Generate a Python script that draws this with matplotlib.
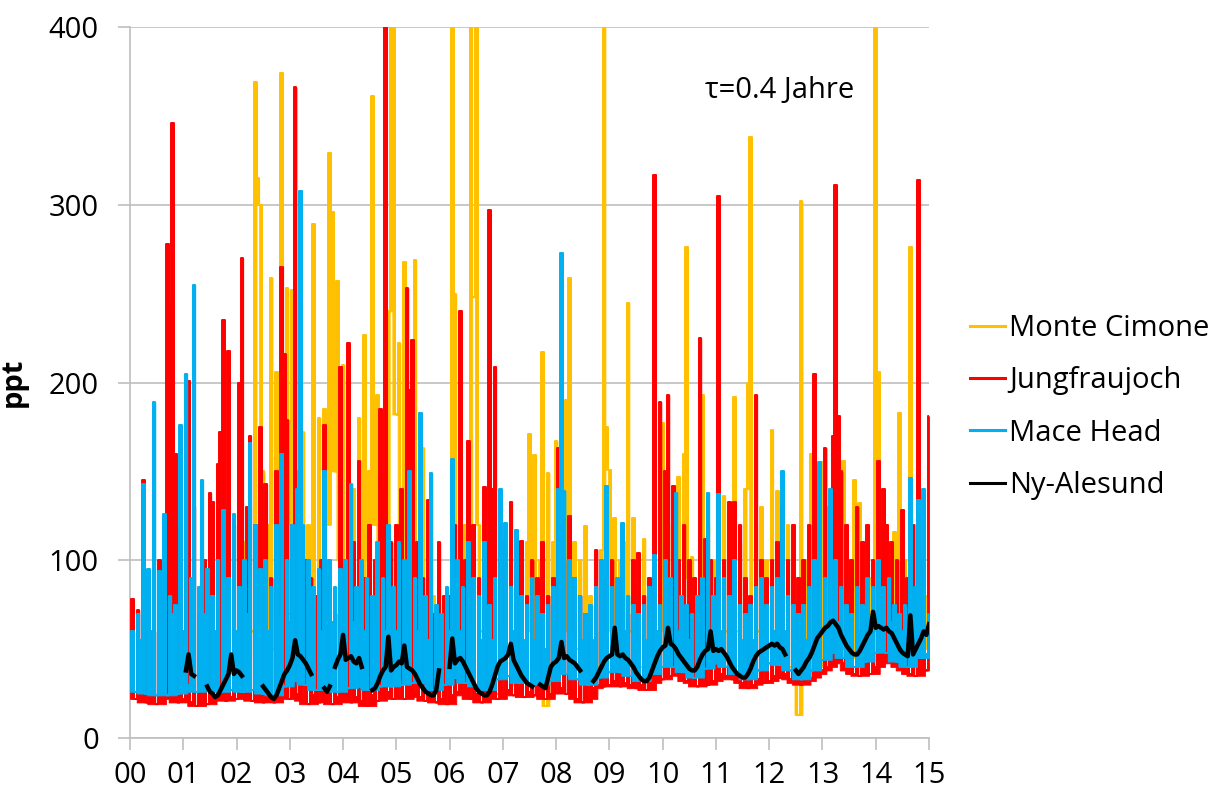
import numpy as np
import matplotlib
matplotlib.use("Agg")
import matplotlib.pyplot as plt
from numpy.lib.stride_tricks import sliding_window_view

nan = np.nan

# sample dates (years since 2000), 20 samples per year
years = np.arange(301) * 0.05
tick_labels = ["00", "01", "02", "03", "04", "05", "06", "07", "08", "09",
               "10", "11", "12", "13", "14", "15"]
series_names = ["Monte Cimone", "Jungfraujoch", "Mace Head", "Ny-Alesund"]

monte_cimone = (
    [nan] * 40 +
    [40, 156, 60, 110, 45, 130, 60, 369, 315, 300, 150, 60, 120, 259, 50, 206, 90, 374, 60, 253] +
    [70, 252, 80, 150, 60, 172, 50, 120, 70, 289, 60, 180, 90, 185, 120, 329, 296, 150, 257, 100] +
    [210, 90, 160, 60, 140, 70, 180, 90, 227, 100, 150, 361, 120, 193, 80, 150, 60, 240, 460, 460] +
    [182, 222, 70, 268, 90, 150, 60, 269, 80, 120, 163, 50, 100, 40, 80, 30, 70, 35, 60, 40] +
    [60, 460, 250, 80, 183, 60, 120, 90, 460, 248, 460, 120, 60, 90, 40, 70, 30, 60, 25, 50] +
    [40, 80, 35, 60, 30, 70, 35, 90, 40, 110, 171, 60, 159, 40, 100, 217, 18, 149, 30, 110] +
    [167, 50, 120, 60, 190, 259, 70, 110, 50, 100, 40, 119, 35, 80, 30, 60, 40, 106, 460, 175] +
    [151, 60, 124, 50, 100, 45, 110, 245, 60, 124, 50, 90, 40, 112, 35, 80, 40, 90, 50, 100] +
    [177, 60, 120, 50, 100, 45, 147, 80, 160, 276, 90, 102, 40, 80, 35, 193, 60, 120, 50, 100] +
    [60, 110, 50, 136, 60, 100, 45, 192, 60, 110, 40, 140, 200, 338, 50, 120, 60, 130, 40, 100] +
    [50, 173, 60, 139, 50, 100, 45, 120, 40, 90, 35, 13, 302, 60, 100, 45, 160, 50, 120, 40] +
    [155, 60, 130, 50, 100, 60, 120, 50, 156, 60, 100, 45, 145, 50, 132, 60, 110, 50, 90, 60] +
    [460, 206, 80, 120, 50, 100, 60, 116, 50, 183, 60, 100, 50, 276, 70, 120, 60, 100, 50, 80] +
    [60]
)

jungfraujoch = (
    [45, 78, 22, 72, 25, 145, 20, 90, 24, 60, 19, 100, 22, 80, 278, 244, 346, 160, 20, 120] +
    [22, 90, 201, 20, 130, 18, 70, 22, 100, 19, 138, 133, 24, 154, 172, 235, 21, 218, 23, 120] +
    [22, 200, 270, 25, 130, 170, 21, 120, 24, 175, 20, 143, 23, 90, 20, 150, 26, 265, 216, 179] +
    [22, 120, 366, 25, 120, 21, 100, 19, 90, 24, 80, 20, 100, 176, 22, 90, 19, 70, 23, 209] +
    [25, 100, 222, 20, 110, 23, 156, 21, 90, 18, 120, 24, 100, 21, 185, 140, 460, 26, 110, 22] +
    [120, 24, 140, 22, 253, 196, 224, 26, 110, 23, 90, 21, 134, 24, 70, 20, 110, 22, 80, 19] +
    [80, 24, 120, 26, 240, 30, 100, 167, 22, 120, 25, 90, 20, 141, 24, 297, 140, 209, 22, 100] +
    [25, 110, 27, 133, 24, 90, 28, 111, 23, 80, 26, 100, 24, 90, 27, 110, 22, 80, 25, 90] +
    [26, 163, 28, 100, 25, 125, 27, 90, 22, 80, 20, 70, 22, 60, 28, 106, 30, 80, 29, 90] +
    [30, 100, 32, 80, 29, 90, 31, 70, 30, 100, 28, 104, 30, 80, 27, 90, 31, 317, 35, 189] +
    [33, 150, 193, 35, 142, 38, 100, 36, 120, 32, 100, 31, 90, 29, 225, 33, 112, 30, 100, 32] +
    [90, 305, 36, 100, 35, 133, 33, 133, 37, 120, 31, 90, 28, 80, 30, 193, 33, 100, 31, 90] +
    [32, 100, 35, 110, 34, 130, 36, 100, 33, 120, 31, 90, 30, 100, 32, 120, 34, 205, 36, 100] +
    [38, 163, 40, 130, 170, 311, 181, 150, 42, 120, 38, 100, 36, 130, 35, 110, 37, 120, 36, 100] +
    [40, 156, 100, 140, 120, 45, 110, 42, 100, 40, 128, 38, 90, 36, 120, 35, 314, 40, 100, 38] +
    [181]
)

mace_head = (
    [30, 60, 26, 70, 55, 143, 25, 95, 60, 189, 24, 94, 65, 126, 24, 80, 70, 75, 25, 176] +
    [60, 205, 30, 90, 255, 26, 85, 145, 70, 95, 27, 80, 60, 100, 26, 128, 65, 90, 27, 126] +
    [60, 85, 26, 100, 70, 166, 27, 120, 65, 95, 25, 100, 60, 85, 24, 120, 70, 160, 29, 100] +
    [65, 120, 32, 140, 308, 120, 30, 100, 70, 85, 27, 95, 60, 150, 27, 100, 65, 85, 26, 95] +
    [60, 100, 28, 143, 65, 85, 29, 100, 60, 90, 27, 80, 65, 110, 29, 90, 60, 120, 29, 85] +
    [60, 110, 30, 100, 65, 150, 31, 90, 60, 183, 31, 80, 55, 149, 27, 75, 55, 70, 30, 85] +
    [60, 157, 34, 100, 60, 85, 31, 110, 65, 90, 29, 80, 55, 110, 27, 75, 55, 90, 33, 140] +
    [60, 121, 35, 85, 60, 117, 31, 80, 55, 75, 31, 90, 55, 80, 30, 70, 50, 75, 32, 85] +
    [60, 140, 273, 139, 36, 100, 60, 90, 33, 80, 55, 70, 30, 75, 55, 85, 34, 100, 60, 142] +
    [37, 85, 60, 90, 37, 121, 60, 80, 35, 75, 55, 70, 32, 75, 55, 85, 36, 103, 60, 75] +
    [40, 100, 60, 90, 40, 138, 60, 80, 37, 75, 55, 70, 34, 80, 55, 90, 39, 138, 60, 80] +
    [42, 137, 60, 90, 40, 80, 60, 100, 36, 75, 55, 70, 33, 75, 55, 85, 38, 90, 60, 75] +
    [42, 85, 60, 90, 41, 150, 60, 80, 38, 75, 55, 70, 33, 75, 55, 85, 38, 100, 60, 155] +
    [44, 90, 65, 140, 48, 100, 65, 85, 45, 75, 60, 70, 40, 85, 60, 75, 43, 90, 65, 85] +
    [48, 100, 65, 85, 48, 90, 65, 75, 43, 70, 60, 75, 40, 146, 60, 85, 134, 45, 140, 47] +
    [70]
)

ny_alesund = (
    [nan] * 20 +
    [nan, 38, 47, 36, 35, nan, nan, nan, nan, 29, 26, 25, 23, 24, 27, 30, 33, 36, 47, 36] +
    [38, 37, 35, nan, nan, nan, 38, nan, nan, nan, 29, 27, 25, 23, 22, 24, 28, 32, 36, 38] +
    [41, 45, 55, 47, 46, 44, 42, 39, 36, nan, nan, nan, nan, 28, 26, 29, nan, 40, 44, 47] +
    [58, 44, 45, 46, 43, 42, 45, 40, nan, nan, nan, 27, 28, 31, 35, 38, 40, 57, 38, 40] +
    [41, 43, 42, 52, 40, 39, 38, 36, 33, 30, 28, 26, 25, 24, 24, 27, 38, nan, nan, nan] +
    [40, 56, 42, 44, 45, 43, 40, 37, 34, 31, 28, 26, 25, 24, 24, 26, 30, 35, 40, 43] +
    [44, 45, 47, 53, 44, 41, 38, 35, 33, 31, 30, 29, nan, nan, 30, 29, 28, 34, 40, 42] +
    [43, 45, 54, 45, 46, 44, 43, 42, 40, 38, nan, nan, nan, nan, 32, 34, 37, 40, 43, 45] +
    [46, 47, 62, 47, 46, 47, 45, 44, 42, 40, 37, 35, 33, 32, 32, 34, 38, 42, 46, 49] +
    [51, 52, 62, 53, 52, 50, 47, 45, 43, 41, 39, 38, 38, 40, 44, 47, 49, 50, 60, 49] +
    [50, 49, 50, 48, 46, 43, 40, 38, 36, 35, 34, 34, 36, 39, 43, 46, 48, 49, 50, 51] +
    [52, 53, 52, 53, 51, 50, 47, nan, nan, nan, 38, 36, 38, 40, 43, 45, 48, 52, 56, 58] +
    [60, 62, 63, 65, 66, 64, 62, 58, 55, 52, 50, 48, 47, 47, 49, 52, 55, 58, 60, 71] +
    [62, 63, 62, 61, 62, 60, 59, 56, 53, 50, 48, 47, 46, 69, 47, 50, 53, 56, 60, 58] +
    [64]
)

colors = ["#FFC000", "#FF0000", "#00B0F0", "#000000"]

plt.rcParams["font.family"] = ["Open Sans", "DejaVu Sans"]
plt.rcParams["font.size"] = 21

fig = plt.figure(figsize=(12.29, 7.98), dpi=100)
ax = fig.add_axes([130 / 1229, 1 - 738 / 798, 799 / 1229, 711 / 798])

dense_series = [monte_cimone, jungfraujoch, mace_head]
half_windows = [1, 3, 3]
for i, (vals, name, col, hw) in enumerate(zip(dense_series, series_names[:3],
                                               colors[:3], half_windows)):
    v = np.array(vals, dtype=float)
    padded = np.concatenate([[nan] * hw, v, [nan] * hw])
    low = np.fmin.reduce(sliding_window_view(padded, 2 * hw + 1), axis=1)
    mask = np.isnan(v)
    vm = np.ma.array(v, mask=mask)
    lm = np.ma.array(low, mask=mask)
    ax.fill_between(years, lm, vm, step="mid", color=col, lw=0.6,
                    edgecolor=col, zorder=2 + i)
    ax.plot(years, vm, color=col, lw=1.4, drawstyle="steps-mid",
            zorder=2 + i, label=name)

ax.plot(years, ny_alesund, color=colors[3], lw=3.2, label=series_names[3],
        zorder=6)

ax.set_xlim(0, 15)
ax.set_ylim(0, 400)
ax.set_yticks([0, 100, 200, 300, 400])
ax.set_xticks(range(16))
ax.set_xticklabels(tick_labels)
ax.grid(axis="y", color="#BFBFBF", lw=1.2, zorder=0)
ax.set_axisbelow(True)
for s in ["top", "right"]:
    ax.spines[s].set_visible(False)
for s in ["left", "bottom"]:
    ax.spines[s].set_color("#BFBFBF")
    ax.spines[s].set_linewidth(1.2)
ax.tick_params(axis="both", colors="#BFBFBF", labelcolor="black",
               labelsize=21, length=8.5, width=1.2)
ax.tick_params(axis="y", pad=14)
ax.tick_params(axis="x", pad=8)

ax.set_ylabel("ppt", fontweight="bold", fontsize=21)
ax.yaxis.set_label_coords(-0.128, 0.5)

ax.text(10.79, 364, "τ=0.4 Jahre", ha="left", va="center", fontsize=21)

leg = fig.legend(loc="upper left", bbox_to_anchor=(970 / 1229, 1 - 314 / 798),
                 frameon=False, handlelength=1.2, handletextpad=0.15,
                 labelspacing=0.8, borderpad=0, borderaxespad=0, fontsize=21)
for h in leg.get_lines():
    h.set_linewidth(2.2)

fig.savefig("out.png", dpi=100)
